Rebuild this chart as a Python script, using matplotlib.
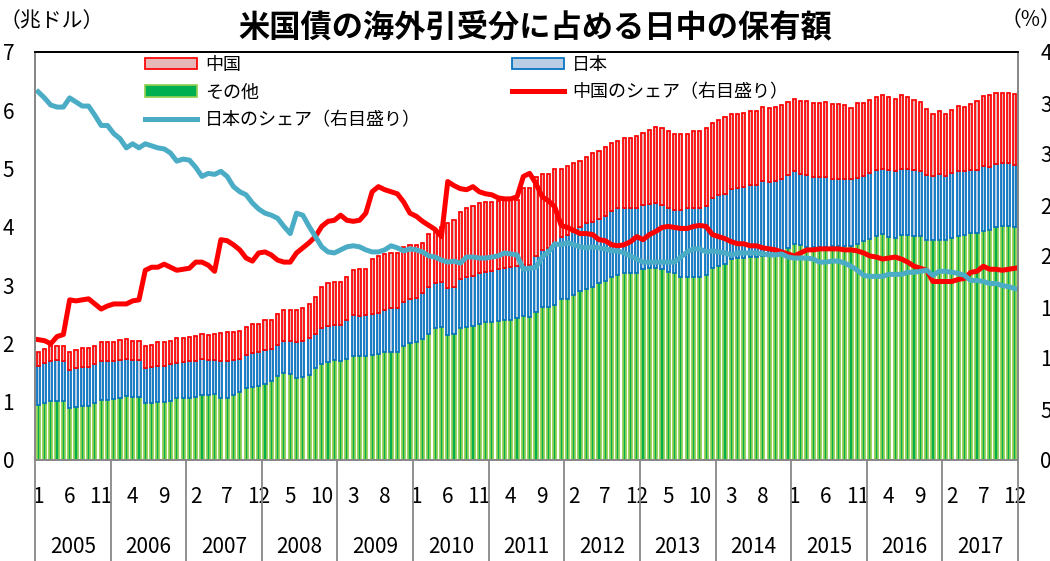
import matplotlib
matplotlib.use("Agg")
import matplotlib.pyplot as plt
import matplotlib.transforms as mtransforms
import numpy as np

plt.rcParams["font.family"] = ["Noto Sans CJK JP", "DejaVu Sans"]

years = ["2005", "2006", "2007", "2008", "2009", "2010", "2011",
         "2012", "2013", "2014", "2015", "2016", "2017"]

# 兆ドル, monthly Jan-2005 .. Dec-2017
other = [
    0.95, 0.98, 1.01, 1.01, 1.01, 0.89, 0.91, 0.92, 0.93, 0.97, 1.03, 1.03,
    1.05, 1.06, 1.09, 1.08, 1.08, 0.97, 0.97, 0.99, 0.99, 1.02, 1.06, 1.06,
    1.07, 1.08, 1.11, 1.11, 1.13, 1.06, 1.07, 1.12, 1.17, 1.23, 1.26, 1.27,
    1.31, 1.35, 1.44, 1.50, 1.48, 1.40, 1.42, 1.45, 1.58, 1.65, 1.68, 1.72,
    1.69, 1.73, 1.79, 1.79, 1.79, 1.80, 1.82, 1.85, 1.86, 1.86, 1.96, 2.00,
    2.03, 2.08, 2.17, 2.26, 2.29, 2.14, 2.17, 2.26, 2.29, 2.30, 2.33, 2.36,
    2.37, 2.39, 2.40, 2.41, 2.43, 2.47, 2.45, 2.54, 2.63, 2.63, 2.66, 2.77,
    2.77, 2.83, 2.90, 2.94, 2.97, 3.03, 3.07, 3.14, 3.17, 3.20, 3.21, 3.21,
    3.28, 3.30, 3.30, 3.28, 3.23, 3.20, 3.14, 3.14, 3.14, 3.14, 3.17, 3.29,
    3.33, 3.37, 3.45, 3.46, 3.46, 3.49, 3.49, 3.50, 3.51, 3.52, 3.55, 3.63,
    3.70, 3.69, 3.66, 3.66, 3.66, 3.66, 3.67, 3.68, 3.68, 3.68, 3.70, 3.76,
    3.80, 3.84, 3.87, 3.83, 3.81, 3.86, 3.86, 3.84, 3.84, 3.77, 3.77, 3.78,
    3.77, 3.81, 3.84, 3.86, 3.89, 3.90, 3.93, 3.94, 3.99, 4.01, 4.01, 4.00,
]
japan = [
    0.67, 0.68, 0.69, 0.70, 0.69, 0.65, 0.67, 0.67, 0.67, 0.67, 0.67, 0.67,
    0.65, 0.66, 0.64, 0.64, 0.64, 0.61, 0.62, 0.63, 0.62, 0.62, 0.60, 0.62,
    0.62, 0.62, 0.62, 0.61, 0.59, 0.63, 0.63, 0.59, 0.56, 0.57, 0.58, 0.58,
    0.58, 0.55, 0.54, 0.54, 0.57, 0.63, 0.63, 0.64, 0.58, 0.62, 0.62, 0.60,
    0.63, 0.67, 0.70, 0.68, 0.69, 0.70, 0.71, 0.72, 0.74, 0.74, 0.75, 0.76,
    0.75, 0.78, 0.79, 0.77, 0.77, 0.81, 0.80, 0.84, 0.85, 0.86, 0.87, 0.87,
    0.87, 0.89, 0.90, 0.90, 0.90, 0.88, 0.90, 0.96, 0.97, 1.00, 1.06, 1.06,
    1.09, 1.09, 1.10, 1.12, 1.12, 1.11, 1.11, 1.13, 1.15, 1.13, 1.12, 1.12,
    1.09, 1.10, 1.11, 1.09, 1.10, 1.09, 1.15, 1.18, 1.19, 1.19, 1.19, 1.20,
    1.22, 1.20, 1.20, 1.20, 1.22, 1.22, 1.22, 1.28, 1.26, 1.26, 1.27, 1.26,
    1.25, 1.22, 1.23, 1.19, 1.19, 1.20, 1.15, 1.14, 1.14, 1.14, 1.13, 1.11,
    1.12, 1.13, 1.13, 1.14, 1.14, 1.14, 1.14, 1.13, 1.12, 1.12, 1.11, 1.12,
    1.10, 1.11, 1.12, 1.10, 1.09, 1.08, 1.11, 1.09, 1.09, 1.08, 1.08, 1.06,
]
china = [
    0.24, 0.24, 0.26, 0.25, 0.26, 0.32, 0.31, 0.33, 0.32, 0.32, 0.32, 0.33,
    0.33, 0.34, 0.34, 0.33, 0.33, 0.38, 0.39, 0.41, 0.41, 0.41, 0.43, 0.41,
    0.42, 0.42, 0.44, 0.43, 0.45, 0.49, 0.49, 0.49, 0.49, 0.49, 0.50, 0.49,
    0.51, 0.51, 0.52, 0.53, 0.53, 0.55, 0.55, 0.58, 0.64, 0.70, 0.73, 0.74,
    0.74, 0.74, 0.77, 0.80, 0.79, 0.95, 0.97, 0.96, 0.96, 0.96, 0.95, 0.93,
    0.91, 0.87, 0.91, 0.92, 0.94, 1.11, 1.15, 1.16, 1.18, 1.20, 1.21, 1.20,
    1.19, 1.16, 1.16, 1.15, 1.13, 1.32, 1.31, 1.36, 1.30, 1.27, 1.27, 1.16,
    1.18, 1.17, 1.13, 1.14, 1.17, 1.16, 1.19, 1.17, 1.15, 1.19, 1.20, 1.23,
    1.24, 1.27, 1.30, 1.32, 1.32, 1.30, 1.30, 1.27, 1.32, 1.32, 1.34, 1.29,
    1.28, 1.31, 1.28, 1.28, 1.27, 1.28, 1.27, 1.28, 1.27, 1.28, 1.27, 1.26,
    1.25, 1.25, 1.27, 1.28, 1.28, 1.29, 1.29, 1.28, 1.27, 1.22, 1.29, 1.26,
    1.26, 1.26, 1.27, 1.25, 1.24, 1.26, 1.23, 1.21, 1.19, 1.14, 1.06, 1.09,
    1.06, 1.08, 1.11, 1.10, 1.13, 1.18, 1.20, 1.23, 1.21, 1.21, 1.21, 1.22,
]
# %
china_share = [
    11.8, 11.7, 11.4, 12.1, 12.3, 15.7, 15.6, 15.7, 15.8, 15.3, 14.8, 15.1,
    15.3, 15.3, 15.3, 15.6, 15.7, 18.6, 18.9, 18.9, 19.2, 18.9, 18.6, 18.7,
    18.8, 19.4, 19.4, 19.1, 18.5, 21.6, 21.5, 21.1, 20.6, 19.8, 19.5, 20.3,
    20.4, 20.1, 19.6, 19.4, 19.4, 20.3, 20.8, 21.3, 21.9, 22.9, 23.4, 23.5,
    24.0, 23.5, 23.4, 23.5, 24.2, 26.3, 26.8, 26.5, 26.3, 26.1, 25.3, 24.2,
    23.9, 23.4, 23.0, 22.6, 21.9, 27.3, 26.9, 26.6, 26.5, 26.8, 26.3, 26.1,
    26.0, 25.7, 25.6, 25.6, 25.8, 27.8, 28.1, 27.1, 25.8, 25.4, 24.8, 23.0,
    22.8, 22.5, 22.2, 22.2, 22.1, 21.6, 21.5, 21.1, 21.0, 21.1, 21.4, 21.9,
    21.6, 22.1, 22.4, 22.8, 22.9, 22.8, 22.7, 22.7, 22.9, 23.0, 22.9, 22.1,
    21.9, 21.7, 21.4, 21.2, 21.2, 21.0, 21.0, 20.8, 20.7, 20.6, 20.4, 20.2,
    20.0, 20.3, 20.6, 20.6, 20.7, 20.7, 20.7, 20.7, 20.6, 20.6, 20.5, 20.3,
    20.0, 19.9, 19.7, 19.8, 19.9, 19.7, 19.4, 19.0, 18.8, 18.6, 17.5, 17.5,
    17.5, 17.5, 17.7, 17.8, 18.4, 18.5, 19.0, 18.7, 18.7, 18.6, 18.7, 18.8,
]
japan_share = [
    36.1, 35.5, 34.8, 34.6, 34.6, 35.5, 35.1, 34.7, 34.7, 33.8, 32.8, 32.8,
    32.0, 31.5, 30.6, 31.0, 30.6, 31.0, 30.8, 30.6, 30.5, 30.1, 29.3, 29.5,
    29.4, 28.7, 27.8, 28.1, 28.0, 28.3, 27.8, 26.8, 26.3, 26.0, 25.2, 24.6,
    24.2, 24.0, 23.7, 22.9, 22.2, 24.2, 24.0, 22.9, 21.9, 20.9, 20.4, 20.3,
    20.6, 20.9, 21.0, 20.9, 20.6, 20.4, 20.4, 20.6, 21.0, 20.8, 20.5, 20.7,
    20.6, 20.4, 20.0, 19.9, 19.6, 19.4, 19.5, 19.3, 19.9, 19.9, 19.8, 19.8,
    19.9, 20.0, 20.3, 20.2, 20.1, 18.7, 18.8, 18.9, 19.9, 20.4, 21.2, 21.1,
    21.3, 21.1, 20.9, 20.8, 20.9, 20.8, 20.7, 20.5, 20.5, 20.3, 20.0, 19.7,
    19.4, 19.4, 19.4, 19.4, 19.4, 19.4, 19.9, 20.4, 20.7, 20.7, 20.4, 20.5,
    20.4, 20.3, 20.1, 20.3, 20.3, 20.3, 20.3, 20.2, 20.1, 20.1, 20.2, 19.9,
    19.8, 19.8, 19.8, 19.7, 19.4, 19.4, 19.5, 19.5, 19.3, 19.0, 18.6, 18.1,
    18.0, 18.0, 18.0, 18.2, 18.2, 18.2, 18.4, 18.4, 18.5, 18.6, 18.1, 18.5,
    18.5, 18.4, 18.3, 18.1, 17.6, 17.6, 17.5, 17.3, 17.3, 17.1, 17.0, 16.8,
]

n = len(other)
x = np.arange(n)
other_a = np.array(other)
japan_a = np.array(japan)
china_a = np.array(china)

fig = plt.figure(figsize=(10.5, 5.61), dpi=100)
ax = fig.add_axes([35 / 1050, 101 / 561, 983 / 1050, 408 / 561])

w = 0.5
b1 = ax.bar(x, other_a, w, color="#00B050", edgecolor="#92D050", linewidth=1.25, label="その他")
b2 = ax.bar(x, japan_a, w, bottom=other_a, color="#B9CDE5", edgecolor="#0070C0",
            linewidth=1.25, label="日本")
b3 = ax.bar(x, china_a, w, bottom=other_a + japan_a, color="#E6B9B8", edgecolor="#FF0000",
            linewidth=1.25, label="中国")

ax.set_xlim(-0.5, n - 0.5)
ax.set_ylim(0, 7)
ax.set_yticks(range(8))
ax.tick_params(axis="y", length=0, pad=15, labelsize=15)

month_idx = list(range(0, n, 5))
ax.set_xticks(month_idx)
ax.set_xticklabels([str(i % 12 + 1) for i in month_idx])
ax.tick_params(axis="x", length=0, pad=19, labelsize=15)

ax2 = ax.twinx()
l1, = ax2.plot(x, china_share, color="#FF0000", lw=3.6, solid_joinstyle="round",
               label="中国のシェア（右目盛り）")
l2, = ax2.plot(x, japan_share, color="#4BACC6", lw=3.6, solid_joinstyle="round",
               label="日本のシェア（右目盛り）")
ax2.set_ylim(0, 40)
ax2.set_yticks(range(0, 45, 5))
ax2.tick_params(axis="y", length=0, pad=16, labelsize=15)

for a in (ax, ax2):
    for s in a.spines.values():
        s.set_color("#888888")
        s.set_linewidth(1.3)
    a.spines["top"].set_color("black")

# year separators and labels under the axis
trans = mtransforms.blended_transform_factory(ax.transData, ax.transAxes)
for k in range(len(years) + 1):
    ax.plot([12 * k - 0.5, 12 * k - 0.5], [0, -0.26], transform=trans,
            color="#888888", lw=1.3, clip_on=False)
for k, yr in enumerate(years):
    ax.text(12 * k + 5.5, -0.213, yr, transform=trans, ha="center", va="center",
            fontsize=15)

handles = [b3, b1, l2, b2, l1]
labels = ["中国", "その他", "日本のシェア（右目盛り）", "日本", "中国のシェア（右目盛り）"]
ax2.legend(handles, labels, ncol=2, loc="upper left", bbox_to_anchor=(0.108, 1.0),
           frameon=False, fontsize=13, handlelength=2.9, handleheight=0.6,
           handletextpad=0.45, labelspacing=0.55, columnspacing=5.0,
           borderpad=0.2, borderaxespad=0.0)

fig.text(0.51, 0.952, "米国債の海外引受分に占める日中の保有額", ha="center", va="center",
         fontsize=22.5, fontweight="bold")
fig.text(0.0, 0.963, "（兆ドル）", ha="left", va="center", fontsize=15)
fig.text(0.953, 0.965, "（%）", ha="left", va="center", fontsize=15)

fig.savefig("out.png", dpi=100)
